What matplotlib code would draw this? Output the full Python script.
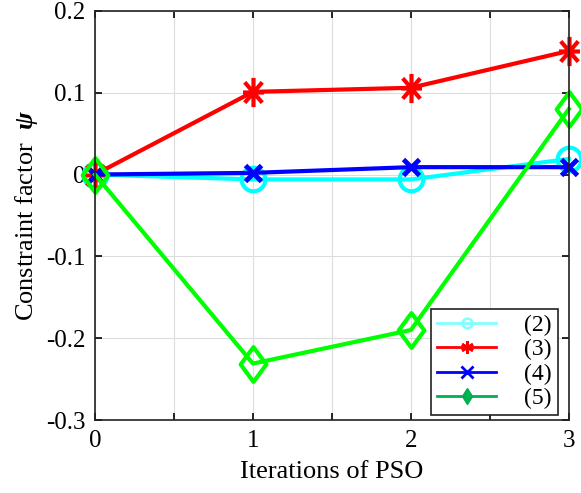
import matplotlib
matplotlib.use('Agg')
import matplotlib.pyplot as plt
from matplotlib.lines import Line2D
from matplotlib.path import Path

# Data
iterations = [0, 1, 2, 3]
psi_2 = [0.0, -0.006, -0.006, 0.019]
psi_3 = [0.0, 0.101, 0.106, 0.151]
psi_4 = [0.0, 0.002, 0.009, 0.009]
psi_5 = [0.0, -0.231, -0.190, 0.080]
legend_labels = ['(2)', '(3)', '(4)', '(5)']

plt.rcParams['font.family'] = ['Liberation Serif', 'DejaVu Serif']
plt.rcParams['mathtext.fontset'] = 'custom'
plt.rcParams['mathtext.bf'] = 'Liberation Serif:bold:italic'
plt.rcParams['mathtext.rm'] = 'Liberation Serif'

# MATLAB-like markers, a bit taller than wide as in the original
star = Path([(0, -1), (0, 1), (-0.72, 0), (0.72, 0),
             (-0.6, -0.7), (0.6, 0.7), (-0.6, 0.7), (0.6, -0.7)],
            [Path.MOVETO, Path.LINETO] * 4)
diamond = Path([(0, 1), (0.74, 0), (0, -1), (-0.74, 0), (0, 1)],
               [Path.MOVETO, Path.LINETO, Path.LINETO, Path.LINETO,
                Path.CLOSEPOLY])

fig = plt.figure(figsize=(5.81, 4.93), dpi=100)
ax = fig.add_axes([0.1635, 0.148, 0.8155, 0.83])

lw = 3
ax.plot(iterations, psi_2, color='#00FFFF', lw=lw, marker='o', ms=17,
        mfc='none', mew=3, clip_on=False)
ax.plot(iterations, psi_3, color='#FF0000', lw=lw, marker=star, ms=21,
        mew=3, clip_on=False)
ax.plot(iterations, psi_4, color='#0000FF', lw=lw, marker='x', ms=12,
        mew=3.5, clip_on=False)
ax.plot(iterations, psi_5, color='#00FF00', lw=lw, marker=diamond, ms=25,
        mfc='none', mew=3, clip_on=False)

ax.set_xlim(0, 3)
ax.set_ylim(-0.3, 0.2)
ax.set_xticks([0, 0.5, 1, 1.5, 2, 2.5, 3])
ax.set_xticklabels(['0', '', '1', '', '2', '', '3'])
ax.set_yticks([-0.3, -0.2, -0.1, 0, 0.1, 0.2])
ax.set_yticklabels(['-0.3', '-0.2', '-0.1', '0', '0.1', '0.2'])
ax.tick_params(direction='in', top=True, right=True, labelsize=18,
               length=5, width=1.2, pad=7)
ax.grid(True, color='#dddddd', lw=0.8)
ax.set_axisbelow(True)
for s in ax.spines.values():
    s.set_linewidth(1.2)
    s.set_color('#222222')

ax.set_xlabel('Iterations of PSO', fontsize=19, labelpad=7)
ax.set_ylabel(r'Constraint factor  $\mathbf{\psi}$', fontsize=19, labelpad=4)

handles = [
    Line2D([], [], color='#80FFFF', lw=2, marker='o', ms=7, mfc='none', mew=1.8),
    Line2D([], [], color='#FF0000', lw=2, marker=(6, 2, 0), ms=9, mew=2),
    Line2D([], [], color='#0000FF', lw=2, marker='x', ms=8, mew=2),
    Line2D([], [], color='#00B050', lw=2, marker='d', ms=8),
]
leg = ax.legend(handles, legend_labels, loc='lower right',
                bbox_to_anchor=(0.977, 0.012), borderaxespad=0,
                fontsize=17, handlelength=2.5, handletextpad=1.2,
                labelspacing=0.12, fancybox=False, framealpha=1,
                edgecolor='#222222', borderpad=0.25)
leg.get_frame().set_linewidth(1.2)

fig.savefig('out.png', dpi=100)
